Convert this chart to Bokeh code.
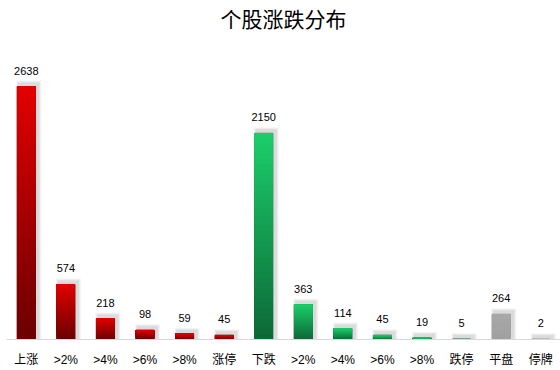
from bokeh.plotting import figure
from bokeh.models import ColumnDataSource, FixedTicker, Range1d, Label
from bokeh.core.properties import value
from bokeh.embed import file_html
from bokeh.resources import INLINE

title_text = "个股涨跌分布"
categories = ["上涨", ">2%", ">4%", ">6%", ">8%", "涨停",
              "下跌", ">2%", ">4%", ">6%", ">8%", "跌停", "平盘", "停牌"]
counts = [2638, 574, 218, 98, 59, 45, 2150, 363, 114, 45, 19, 5, 264, 2]
groups = ["up"] * 6 + ["down"] * 6 + ["flat", "halt"]

top_colors = {"up": (226, 0, 0), "down": (28, 206, 106), "flat": (168, 168, 168), "halt": (90, 90, 90)}
bottom_colors = {"up": (106, 0, 0), "down": (12, 104, 54), "flat": (160, 160, 160), "halt": (60, 60, 60)}

x = list(range(len(categories)))
frame_h = 339
ymax = 3535
bw = 0.46

p = figure(width=560, height=370, output_backend="svg", toolbar_location=None,
           x_range=Range1d(-0.5, len(categories) - 0.5), y_range=Range1d(0, ymax),
           min_border_left=6, min_border_right=0, min_border_top=0, min_border_bottom=31)
p.outline_line_color = None
p.grid.visible = False
p.yaxis.visible = False
p.background_fill_color = "white"
p.border_fill_color = "white"

px = 1 / 39.6
py = ymax / frame_h

# title (inside the frame, which reaches the top of the canvas)
p.add_layout(Label(x=(len(categories) - 1) / 2, y=ymax - 17 * py, text=title_text,
                   text_align="center", text_baseline="middle",
                   text_font="Noto Sans CJK SC", text_font_size="21px", text_color="#000000"))

# shadows (blur approximated with layered translucent quads)
for k, a in [(3, 0.07), (2, 0.10), (1, 0.14)]:
    sh = ColumnDataSource(dict(
        left=[xi - bw / 2 + 2 * px - k * px for xi in x],
        right=[xi + bw / 2 + 3 * px + k * px for xi in x],
        top=[c + 3 * py + k * py for c in counts],
        bottom=[0 for c in counts],
    ))
    p.quad(left="left", right="right", top="top", bottom="bottom", source=sh,
           fill_color="#808080", fill_alpha=a, line_color=None)

# base outline so that tiny bars stay visible
base = ColumnDataSource(dict(left=[xi - bw / 2 for xi in x], right=[xi + bw / 2 for xi in x],
                             top=counts, bottom=[0] * len(x),
                             color=["#%02x%02x%02x" % bottom_colors[g] for g in groups]))
p.quad(left="left", right="right", top="top", bottom="bottom", source=base,
       fill_color="color", line_color="color", line_width=1)

# gradient bars: overlapping slices with interpolated colors
N = 40
L, R, B, T, C = [], [], [], [], []
for xi, c, g in zip(x, counts, groups):
    t0, b0 = top_colors[g], bottom_colors[g]
    for j in range(N):
        f = (j + 0.5) / N
        col = tuple(int(round(b0[i] + (t0[i] - b0[i]) * f)) for i in range(3))
        L.append(xi - bw / 2)
        R.append(xi + bw / 2)
        B.append(c * j / N)
        T.append(c)
        C.append("#%02x%02x%02x" % col)
src = ColumnDataSource(dict(left=L, right=R, bottom=B, top=T, color=C))
p.quad(left="left", right="right", top="top", bottom="bottom", source=src,
       fill_color="color", line_color=None)

# value labels
lab = ColumnDataSource(dict(x=x, y=counts, t=[str(c) for c in counts]))
p.text(x="x", y="y", text="t", source=lab, text_align="center", text_baseline="bottom",
       y_offset=-12, text_font=value("Liberation Sans"), text_font_size="11px", text_color="#000000")

# axis
p.xaxis.ticker = FixedTicker(ticks=x)
p.xaxis.major_label_overrides = {i: c for i, c in enumerate(categories)}
p.xaxis.axis_line_color = "#d9d9d9"
p.xaxis.major_tick_line_color = None
p.xaxis.minor_tick_line_color = None
p.xaxis.major_label_standoff = 7
p.xaxis.major_label_text_font = "Liberation Sans, Noto Sans CJK SC"
p.xaxis.major_label_text_font_size = "12px"
p.xaxis.major_label_text_color = "#000000"

open("out.html", "w").write(file_html(p, INLINE))
